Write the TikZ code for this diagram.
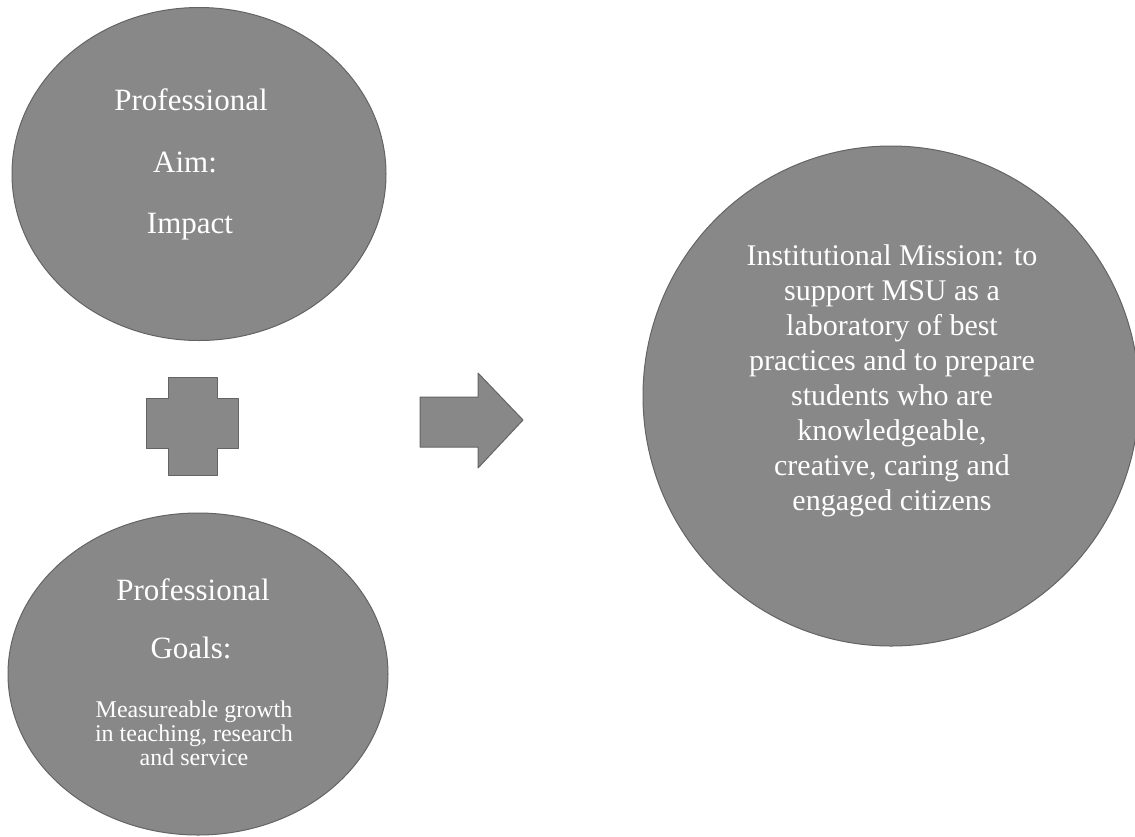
\documentclass[tikz,border=0pt]{standalone}
\usepackage{fontspec}
\setmainfont{Liberation Serif}
\usetikzlibrary{shapes.geometric}
\definecolor{shapegray}{RGB}{136,136,136}
\definecolor{edgegray}{RGB}{100,100,100}
\tikzset{
  blob/.style={ellipse, fill=shapegray, draw=edgegray, line width=1pt, inner sep=0pt},
  bigtxt/.style={text=white, anchor=base, inner sep=0pt, font=\fontsize{31}{34}\selectfont},
  midtxt/.style={text=white, anchor=base, inner sep=0pt, font=\fontsize{30}{34}\selectfont},
  smalltxt/.style={text=white, anchor=base, inner sep=0pt, font=\fontsize{24}{24}\selectfont},
  sign/.style={fill=shapegray, draw=edgegray, line width=1pt, line join=round}
}
\begin{document}
\begin{tikzpicture}[x=1pt,y=-1pt]
\useasboundingbox (0,0) rectangle (1135,836);
% ellipses
\node[blob, minimum width=374pt, minimum height=333pt] (aim) at (199,174) {};
\node[blob, minimum width=380pt, minimum height=322pt] (goals) at (198,674) {};
\node[blob, minimum width=496pt, minimum height=500pt] (mission) at (891,396) {};
% plus sign
\fill[sign] (168,377) -- (217,377) -- (217,398) -- (238,398) -- (238,448) -- (217,448)
  -- (217,475) -- (168,475) -- (168,448) -- (146,448) -- (146,398) -- (168,398) -- cycle;
% right arrow
\fill[sign] (420,397) -- (478,397) -- (478,373) -- (523,420) -- (478,468) -- (478,447)
  -- (420,447) -- cycle;
% texts of top ellipse
\node[bigtxt] (aim1) at (191,110) {Professional};
\node[bigtxt] (aim2) at (185,172) {Aim:};
\node[bigtxt] (aim3) at (190,233) {Impact};
% texts of bottom ellipse
\node[bigtxt] (goal1) at (193,600) {Professional};
\node[bigtxt] (goal2) at (191,658) {Goals:};
\node[smalltxt] (goal3) at (194,717) {Measureable growth};
\node[smalltxt] (goal4) at (194,741) {in teaching, research};
\node[smalltxt] (goal5) at (194,765) {and service};
% texts of the mission circle
\foreach \t [count=\i] in {Institutional Mission: to, support MSU as a, laboratory of best,
  practices and to prepare, students who are, {knowledgeable,}, {creative, caring and},
  engaged citizens}
  \node[midtxt] (mis\i) at (892,{265+35*(\i-1)}) {\t};
\end{tikzpicture}
\end{document}
